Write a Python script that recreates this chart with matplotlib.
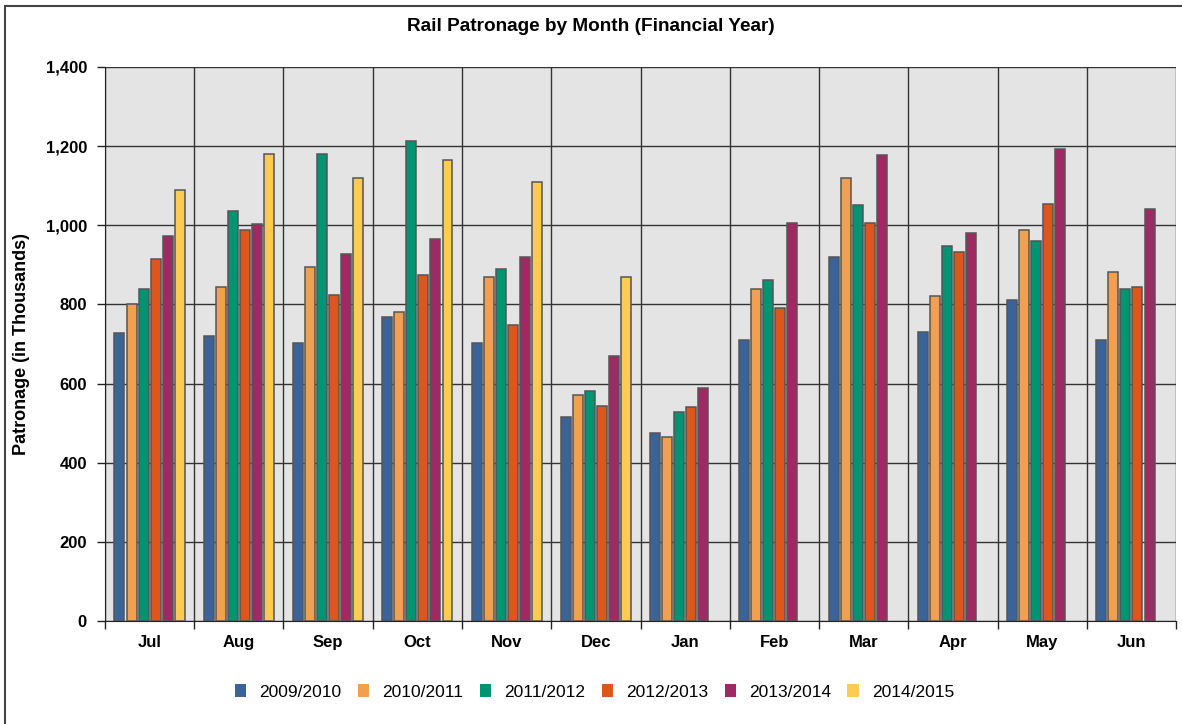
import numpy as np
import matplotlib.pyplot as plt
from matplotlib.patches import Rectangle
from matplotlib.ticker import FuncFormatter, FixedLocator

plt.rcParams['font.family'] = ['Liberation Sans', 'DejaVu Sans']

months = ["Jul", "Aug", "Sep", "Oct", "Nov", "Dec", "Jan", "Feb", "Mar", "Apr", "May", "Jun"]
years = ["2009/2010", "2010/2011", "2011/2012", "2012/2013", "2013/2014", "2014/2015"]

fy0910 = [728, 720, 703, 768, 703, 515, 475, 710, 920, 730, 812, 710]
fy1011 = [800, 845, 895, 780, 870, 572, 465, 838, 1120, 820, 988, 882]
fy1112 = [838, 1035, 1180, 1213, 890, 580, 527, 862, 1050, 948, 960, 838]
fy1213 = [915, 988, 825, 875, 748, 543, 540, 790, 1005, 932, 1053, 845]
fy1314 = [972, 1003, 928, 965, 920, 670, 588, 1005, 1177, 980, 1192, 1042]
fy1415 = [1090, 1180, 1120, 1165, 1110, 870, np.nan, np.nan, np.nan, np.nan, np.nan, np.nan]

series = [fy0910, fy1011, fy1112, fy1213, fy1314, fy1415]
colors = ["#3a6399", "#f0a04e", "#009473", "#dd571c", "#9f2a63", "#fecb52"]

fig = plt.figure(figsize=(11.82, 7.24), dpi=100)
ax = fig.add_axes([0.0888, 0.1423, 0.9062, 0.7652])
ax.set_facecolor("#e4e4e4")

x = np.arange(len(months))
pitch = 0.135
width = 0.112
for j, (vals, c, lab) in enumerate(zip(series, colors, years)):
    ax.bar(x + (j - 2.5) * pitch, vals, width, color=c, edgecolor="#555555",
           linewidth=1.1, label=lab, zorder=3)

ax.set_xlim(-0.5, len(months) - 0.5)
ax.set_ylim(0, 1400)
ax.set_yticks(np.arange(0, 1401, 200))
ax.yaxis.set_major_formatter(FuncFormatter(lambda v, p: f"{int(v):,}"))
ax.set_xticks(x)
ax.set_xticklabels(months, fontweight="bold", fontsize=12)
ax.xaxis.set_minor_locator(FixedLocator(np.arange(-0.5, len(months), 1.0)))
ax.tick_params(axis="x", which="major", length=0, pad=10)
ax.tick_params(axis="x", which="minor", length=6, width=1, color="#222222", direction="out")
ax.tick_params(axis="y", length=6, width=1, color="#222222", labelsize=12, pad=7)
for t in ax.get_yticklabels():
    t.set_fontweight("bold")

ax.grid(True, axis="y", color="#333333", linewidth=1.0, zorder=1)
ax.grid(True, axis="x", which="minor", color="#333333", linewidth=1.0, zorder=1)
for s in ["top", "right"]:
    ax.spines[s].set_visible(False)
ax.spines["left"].set_color("#222222")
ax.spines["bottom"].set_color("#222222")

ax.set_ylabel("Patronage (in Thousands)", fontweight="bold", fontsize=13, labelpad=11)
fig.suptitle("Rail Patronage by Month (Financial Year)", fontweight="bold", fontsize=13.7, y=0.975)

leg = fig.legend(loc="center", bbox_to_anchor=(0.503, 0.044), ncol=6, frameon=False,
                 fontsize=12.5, handlelength=0.65, handleheight=0.75, columnspacing=0.95,
                 handletextpad=0.75)
for h in leg.legend_handles:
    h.set_edgecolor("none")

fig.patches.append(Rectangle((0.004, -0.01), 1.5, 1.002, transform=fig.transFigure,
                             fill=False, edgecolor="#444444", linewidth=1.5))

fig.savefig("out.png", dpi=100)
